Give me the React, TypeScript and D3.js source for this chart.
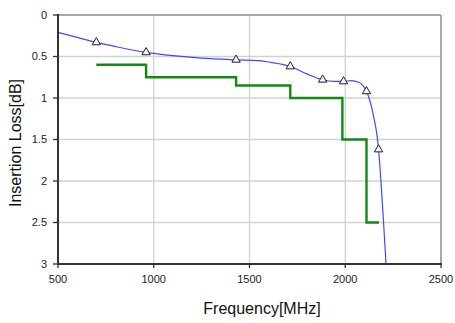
import { useMemo } from 'react';
import * as d3 from 'd3';

// measured curve (blue, smooth)
const curveFreq = [500, 600, 700, 800, 960, 1100, 1250, 1430, 1550, 1610, 1713, 1800, 1882, 1940, 1991, 2030, 2070, 2111, 2144, 2174, 2186, 2200, 2213];
const curveLoss = [0.21, 0.27, 0.33, 0.38, 0.45, 0.49, 0.52, 0.54, 0.55, 0.57, 0.62, 0.71, 0.78, 0.8, 0.8, 0.79, 0.81, 0.92, 1.18, 1.62, 1.99, 2.5, 3.0];

// marker points on the curve
const markFreq = [700, 960, 1430, 1713, 1882, 1991, 2111, 2174];
const markLoss = [0.33, 0.45, 0.54, 0.62, 0.78, 0.8, 0.92, 1.62];

// spec limit (green, step)
const specFreq = [700, 960, 1430, 1713, 1985, 2111, 2176];
const specLoss = [0.6, 0.75, 0.85, 1.0, 1.5, 2.5, 2.5];

const xTicks = [500, 1000, 1500, 2000, 2500];
const yTicks = [0, 0.5, 1, 1.5, 2, 2.5, 3];

const W = 455;
const H = 323;
const M = { left: 58, right: 14, top: 15, bottom: 59 };
const FONT = 'Arial, "Liberation Sans", sans-serif';

export default function App() {
  const x = d3.scaleLinear().domain([500, 2500]).range([M.left, W - M.right]);
  const y = d3.scaleLinear().domain([0, 3]).range([M.top, H - M.bottom]);

  const bluePath = useMemo(() => {
    const line = d3.line<number>()
      .x((_, i) => x(curveFreq[i]))
      .y((_, i) => y(curveLoss[i]))
      .curve(d3.curveMonotoneX);
    return line(curveFreq) ?? '';
  }, []);

  const greenPath = useMemo(() => {
    const line = d3.line<number>()
      .x((_, i) => x(specFreq[i]))
      .y((_, i) => y(specLoss[i]))
      .curve(d3.curveStepAfter);
    return line(specFreq) ?? '';
  }, []);

  const tri = d3.symbol(d3.symbolTriangle, 30)() ?? '';

  const x0 = x.range()[0];
  const x1 = x.range()[1];
  const y0 = y.range()[0];
  const y1 = y.range()[1];

  return (
    <svg width={W} height={H} style={{ position: 'absolute', left: 0, top: 0, background: '#fff' }}>
      {/* grid */}
      {xTicks.slice(1, -1).map((t) => (
        <line key={`gx${t}`} x1={x(t)} x2={x(t)} y1={y0} y2={y1} stroke="#d2d2d2" strokeWidth={1.3} />
      ))}
      {yTicks.slice(1, -1).map((t) => (
        <line key={`gy${t}`} x1={x0} x2={x1} y1={y(t)} y2={y(t)} stroke="#d2d2d2" strokeWidth={1.3} />
      ))}
      {/* top / right frame */}
      <line x1={x0} x2={x1} y1={y0} y2={y0} stroke="#a8a8a8" strokeWidth={2} />
      <line x1={x1} x2={x1} y1={y0} y2={y1} stroke="#a8a8a8" strokeWidth={2} />

      {/* series */}
      <path d={greenPath} fill="none" stroke="#118a11" strokeWidth={2.4} />
      <path d={bluePath} fill="none" stroke="#4646ff" strokeWidth={1.2} />
      {markFreq.map((f, i) => (
        <path
          key={`m${i}`}
          d={tri}
          transform={`translate(${x(f)},${y(markLoss[i])})`}
          fill="#f4f4f4"
          stroke="#222"
          strokeWidth={1}
        />
      ))}

      {/* axes */}
      <line x1={x0} x2={x0} y1={y0 - 1} y2={y1 + 1} stroke="#333" strokeWidth={2} />
      <line x1={x0 - 1} x2={x1 + 1} y1={y1} y2={y1} stroke="#333" strokeWidth={2} />
      {yTicks.map((t) => (
        <g key={`ty${t}`}>
          <line x1={x0 - 5} x2={x0} y1={y(t)} y2={y(t)} stroke="#333" strokeWidth={1.3} />
          <text x={47} y={y(t)} dy="0.35em" textAnchor="end" fontFamily={FONT} fontSize={11} fill="#222">
            {t}
          </text>
        </g>
      ))}
      {xTicks.map((t) => (
        <g key={`tx${t}`}>
          <line x1={x(t)} x2={x(t)} y1={y1} y2={y1 + 4} stroke="#333" strokeWidth={1.3} />
          <text x={x(t)} y={283} textAnchor="middle" fontFamily={FONT} fontSize={11} fill="#222">
            {t}
          </text>
        </g>
      ))}

      <text x={262} y={314} textAnchor="middle" fontFamily={FONT} fontSize={16} fill="#111">
        Frequency[MHz]
      </text>
      <text
        transform={`translate(21,143) rotate(-90)`}
        textAnchor="middle"
        fontFamily={FONT}
        fontSize={16}
        fill="#111"
      >
        Insertion Loss[dB]
      </text>
    </svg>
  );
}
